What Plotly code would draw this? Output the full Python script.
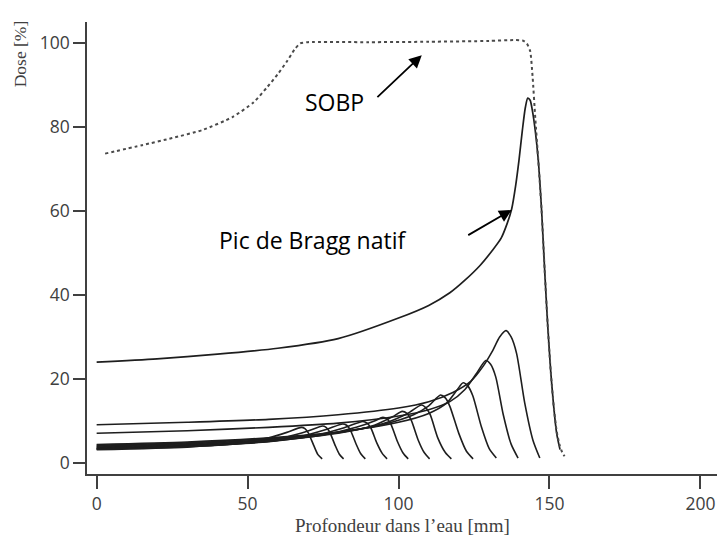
import plotly.graph_objects as go

# ---------------- data ----------------
sobp_depth = [2.8, 15, 25, 35, 45, 52, 56.6, 60, 63, 65.5, 67.4, 70, 90, 110, 130, 138, 141.1,
              142.5, 143.6, 144.4, 145.3, 146.3, 147.4, 148.4, 149.4, 150.4, 151.4, 152.4, 153.4, 154.2, 155]
sobp_dose = [73.6, 75.6, 77.3, 79.2, 82.3, 85.8, 89.5, 92.5, 95.5, 98.3, 99.8, 100.1, 100.1, 100.2, 100.4, 100.6, 100.5,
             99.8, 98.0, 92.0, 82.0, 72.0, 60.0, 46.0, 33.0, 22.0, 13.5, 7.5, 4.2, 2.6, 1.6]

native_depth = [0, 20, 40, 60, 80, 100, 110, 117, 122, 127, 131, 134, 136, 137.5, 138.8, 139.9, 141, 142, 142.8,
                143.6, 144.3, 145.3, 146.3, 147.4, 148.4, 149.4, 150.4, 151.4, 152.4, 153.5]
native_dose = [24.0, 24.8, 25.9, 27.3, 29.6, 34.5, 37.5, 40.5, 43.5, 47.0, 50.5, 53.5, 57.0, 60.5, 66.0, 72.0, 79.0, 84.5, 86.8,
               86.3, 84.0, 79.0, 72.0, 60.0, 46.0, 33.0, 22.0, 13.5, 7.0, 3.2]

pristine_depths = [
    [0, 30, 57, 80, 100, 110, 118, 124, 128, 131, 133.5, 135.6, 137.3, 139.1, 141.8, 144.5, 146.8],
    [0, 30, 57, 80, 100, 110, 117, 122, 126, 128.9, 130.5, 132.2, 134.7, 137.3, 139.6],
    [0, 30, 57, 80, 100, 110, 116, 119.5, 121.4, 123, 124.6, 127.5, 130, 132.4],
    [0, 30, 57, 80, 95, 105, 110, 113.9, 115.5, 117, 120, 122.5, 124.7],
    [0, 30, 57, 80, 95, 103, 107.6, 109, 110.5, 113, 115.5, 117.5],
    [0, 30, 57, 80, 92, 98, 101.2, 102.8, 104.2, 106.5, 108.5, 110.3],
    [0, 30, 57, 75, 86, 92, 94.8, 96.2, 97.5, 99.6, 101.5, 103.2],
    [0, 30, 57, 72, 82, 88.2, 89.6, 90.8, 92.8, 94.6, 96.2],
    [0, 30, 55, 68, 76, 81.5, 82.8, 84, 85.9, 87.5, 89],
    [0, 30, 52, 63, 70, 74.8, 76, 77.1, 78.9, 80.4, 81.8],
    [0, 30, 47, 57, 63, 67.8, 69, 70.1, 71.9, 73.3, 74.7],
]
pristine_doses = [
    [9.1, 9.7, 10.4, 11.5, 13.1, 14.6, 16.8, 19.5, 23.0, 26.5, 30.0, 31.5, 30.0, 26.1, 14.3, 5.5, 1.2],
    [7.1, 7.7, 8.5, 9.5, 11.2, 12.7, 14.6, 17.5, 21.5, 24.4, 23.5, 20.5, 11.5, 4.5, 1.2],
    [4.4, 5.0, 6.0, 7.4, 9.7, 11.8, 14.3, 17.5, 19.1, 18.3, 16.0, 8.5, 3.5, 1.2],
    [4.2, 4.8, 5.8, 7.3, 9.2, 11.5, 13.6, 16.2, 15.5, 13.5, 7.0, 2.8, 1.0],
    [4.0, 4.6, 5.6, 7.2, 9.4, 11.8, 13.8, 13.2, 11.5, 6.0, 2.5, 1.0],
    [3.8, 4.4, 5.4, 7.1, 9.0, 11.0, 12.3, 11.8, 10.2, 5.5, 2.5, 1.0],
    [3.6, 4.2, 5.2, 6.7, 8.5, 10.0, 10.9, 10.5, 9.2, 5.2, 2.4, 1.0],
    [3.5, 4.1, 5.1, 6.5, 8.4, 9.9, 9.5, 8.4, 4.8, 2.3, 1.0],
    [3.4, 4.0, 5.0, 6.4, 8.0, 9.3, 9.0, 7.9, 4.6, 2.2, 1.0],
    [3.3, 3.9, 4.9, 6.2, 7.6, 8.8, 8.5, 7.5, 4.4, 2.1, 1.0],
    [3.2, 3.8, 4.7, 6.0, 7.3, 8.5, 8.2, 7.2, 4.2, 2.0, 1.0],
]

x_ticks = [0, 50, 100, 150, 200]
y_ticks = [0, 20, 40, 60, 80, 100]
x_title = "Profondeur dans l’eau [mm]"
y_title = "Dose [%]"
label_sobp = "SOBP"
label_native = "Pic de Bragg natif"

# ---------------- figure ----------------
fig = go.Figure()

for d, v in zip(pristine_depths, pristine_doses):
    fig.add_trace(go.Scatter(x=d, y=v, mode="lines",
                             line=dict(color="#1e1e1e", width=1.6, shape="spline", smoothing=0.7),
                             hoverinfo="skip", showlegend=False))

fig.add_trace(go.Scatter(x=native_depth, y=native_dose, mode="lines",
                         line=dict(color="#1e1e1e", width=1.7, shape="spline", smoothing=0.7),
                         showlegend=False))

fig.add_trace(go.Scatter(x=sobp_depth, y=sobp_dose, mode="lines",
                         line=dict(color="#4a4a4a", width=2, dash="dot", shape="spline", smoothing=0.6),
                         showlegend=False))

axis_font = dict(family="Open Sans, Liberation Sans, sans-serif", size=17.5, color="#404040")

fig.update_layout(
    width=717, height=536,
    margin=dict(l=87, r=0, t=22, b=62),
    paper_bgcolor="white", plot_bgcolor="white",
    xaxis=dict(range=[-3.2, 205.5], tickvals=x_ticks, ticks="outside", ticklen=13, tickwidth=1.5,
               tickcolor="#404040", showline=True, linecolor="#404040", linewidth=1.5,
               showgrid=False, zeroline=False, tickfont=axis_font),
    yaxis=dict(range=[-2.6, 104.9], tickvals=y_ticks, ticks="outside", ticklen=12, tickwidth=1.5,
               tickcolor="#404040", showline=True, linecolor="#404040", linewidth=1.5,
               showgrid=False, zeroline=False, tickfont=axis_font),
)

fig.add_annotation(text=x_title, xref="paper", yref="paper", x=0.5, y=-0.113,
                   xanchor="center", yanchor="middle", showarrow=False,
                   font=dict(family="Liberation Serif, Times New Roman, serif", size=19, color="#404040"))
fig.add_annotation(text=y_title, xref="paper", yref="paper", x=-0.106, y=0.929,
                   xanchor="center", yanchor="middle", textangle=-90, showarrow=False,
                   font=dict(family="Liberation Serif, Times New Roman, serif", size=17.5, color="#404040"))

label_font = dict(family="Open Sans, Lato, sans-serif", size=23, color="black")
fig.add_annotation(text=label_sobp, x=78.7, y=85.8, xref="x", yref="y", showarrow=False, font=label_font)
fig.add_annotation(text=label_native, x=71.6, y=53.0, xref="x", yref="y", showarrow=False, font=label_font)

# arrows
fig.add_annotation(x=107.7, y=97.0, ax=92.5, ay=86.7, xref="x", yref="y", axref="x", ayref="y",
                   text="", showarrow=True, arrowhead=2, arrowsize=1.4, arrowwidth=1.8, arrowcolor="black")
fig.add_annotation(x=137.5, y=60.2, ax=122.6, ay=54.0, xref="x", yref="y", axref="x", ayref="y",
                   text="", showarrow=True, arrowhead=2, arrowsize=1.4, arrowwidth=1.8, arrowcolor="black")

fig.write_html("out.html", config={"displayModeBar": False},
               post_script="document.body.style.margin='0px'; document.body.style.overflow='hidden';")
